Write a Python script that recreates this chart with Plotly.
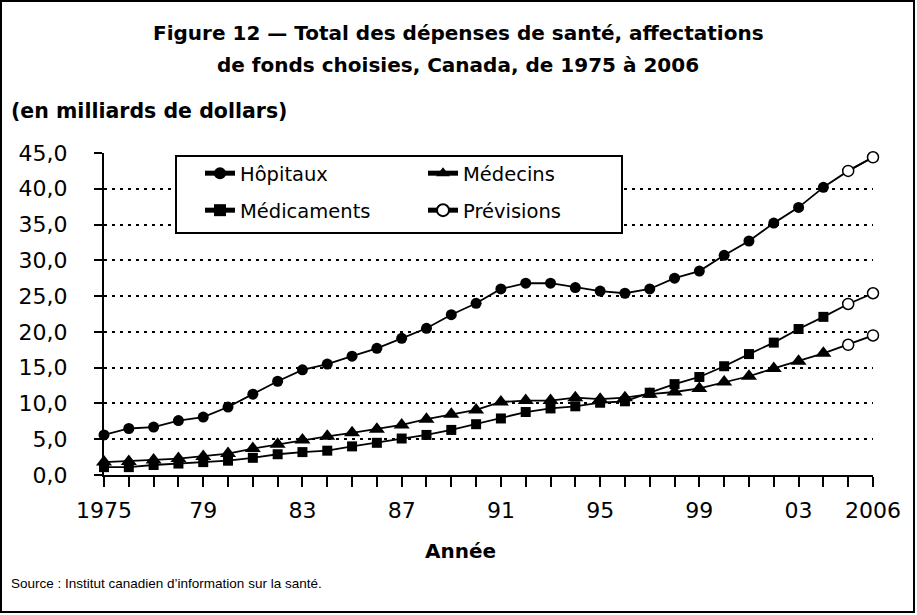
import plotly.graph_objects as go

years = list(range(1975, 2007))
hopitaux = [5.6, 6.5, 6.7, 7.6, 8.1, 9.5, 11.3, 13.1, 14.7, 15.5, 16.6, 17.7, 19.1, 20.5, 22.4, 24.0,
            26.0, 26.8, 26.8, 26.2, 25.7, 25.4, 26.0, 27.5, 28.5, 30.7, 32.7, 35.2, 37.4, 40.2, 42.5, 44.4]
medecins = [1.8, 1.9, 2.1, 2.3, 2.6, 3.0, 3.7, 4.3, 4.9, 5.4, 5.9, 6.4, 7.0, 7.8, 8.5, 9.1,
            10.2, 10.4, 10.4, 10.8, 10.6, 10.8, 11.3, 11.6, 12.1, 13.0, 13.8, 14.9, 15.9, 17.0, 18.2, 19.5]
medicaments = [1.1, 1.1, 1.4, 1.6, 1.8, 2.0, 2.4, 2.9, 3.2, 3.4, 4.0, 4.5, 5.1, 5.6, 6.3, 7.1,
               7.9, 8.8, 9.3, 9.6, 10.1, 10.3, 11.5, 12.7, 13.7, 15.2, 16.9, 18.5, 20.4, 22.1, 23.9, 25.4]
first_forecast_year = 2005
x_tick_labels = {1975: "1975", 1979: "79", 1983: "83", 1987: "87", 1991: "91",
                 1995: "95", 1999: "99", 2003: "03", 2006: "2006"}
y_ticks = [0, 5, 10, 15, 20, 25, 30, 35, 40, 45]

REG = "DejaVu Sans"
BOLD = "DejaVu Sans"
SRC = "Liberation Sans"

fig = go.Figure()
nf = years.index(first_forecast_year)

series = [("Hôpitaux", hopitaux, "circle", 11, "legend"),
          ("Médecins", medecins, "triangle-up", 14, "legend"),
          ("Médicaments", medicaments, "square", 10, "legend2")]

for name, vals, sym, size, lg in series:
    fig.add_trace(go.Scatter(
        x=years[:nf], y=vals[:nf], mode="lines+markers", name=name, legend=lg,
        line=dict(color="black", width=1.8),
        marker=dict(symbol=sym, size=size, color="black", line=dict(color="black", width=0)),
        cliponaxis=False))
    fig.add_trace(go.Scatter(
        x=years[nf - 1:], y=vals[nf - 1:], mode="lines", showlegend=False,
        line=dict(color="black", width=1.8), cliponaxis=False, hoverinfo="skip"))

for i, (name, vals, sym, size, lg) in enumerate(series):
    fig.add_trace(go.Scatter(
        x=years[nf:], y=vals[nf:], mode="lines+markers" if i == 0 else "markers",
        name="Prévisions", legend="legend2", showlegend=(i == 0),
        line=dict(color="black", width=1.8),
        marker=dict(symbol="circle", size=11, color="white", line=dict(color="black", width=1.5)),
        cliponaxis=False))

L, R, T, B = 104, 44, 153, 140
W, H = 917, 615
pw, ph = W - L - R, H - T - B

def px(xp):
    return (xp - L) / pw

def py(yp):
    return (H - B - yp) / ph

fig.update_layout(
    width=W, height=H,
    margin=dict(l=L, r=R, t=T, b=B, autoexpand=False),
    paper_bgcolor="white", plot_bgcolor="white",
    separators=", ",
    showlegend=True,
    xaxis=dict(
        range=[1975, 2006], tickmode="array", tickvals=years,
        ticktext=[x_tick_labels.get(y, "") for y in years],
        showgrid=False, zeroline=False, showline=True, linecolor="black", linewidth=2,
        ticks="outside", ticklen=10, tickwidth=2, tickcolor="black",
        tickfont=dict(family=REG, size=22, color="black"), ticklabelstandoff=5,
    ),
    yaxis=dict(
        range=[0, 45], tickmode="array", tickvals=y_ticks,
        ticktext=[f"{v:.1f}".replace(".", ",") for v in y_ticks],
        showgrid=True, gridcolor="black", gridwidth=2, griddash="3px,5px",
        zeroline=False, showline=True, linecolor="black", linewidth=2,
        ticks="outside", ticklen=8, tickwidth=2, tickcolor="black",
        tickfont=dict(family=REG, size=22, color="black"), ticklabelstandoff=22,
    ),
    legend=dict(
        x=px(200), y=py(154), xanchor="left", yanchor="top", orientation="h",
        font=dict(family=REG, size=19.5, color="black"),
        bgcolor="rgba(0,0,0,0)", borderwidth=0, entrywidth=178, entrywidthmode="pixels",
        itemsizing="constant", tracegroupgap=0,
    ),
    legend2=dict(
        x=px(200), y=py(191), xanchor="left", yanchor="top", orientation="h",
        font=dict(family=REG, size=19.5, color="black"),
        bgcolor="rgba(0,0,0,0)", borderwidth=0, entrywidth=178, entrywidthmode="pixels",
        itemsizing="constant", tracegroupgap=0,
    ),
    shapes=[
        dict(type="rect", xref="paper", yref="paper", x0=px(176), x1=px(622), y0=py(233), y1=py(156),
             line=dict(color="black", width=2), fillcolor="white", layer="above"),
        dict(type="rect", xref="paper", yref="paper", x0=px(1), x1=px(914), y0=py(612), y1=py(1),
             line=dict(color="black", width=2), fillcolor="rgba(0,0,0,0)"),
    ],
    annotations=[
        dict(text="<b>Figure 12 — Total des dépenses de santé, affectations</b>", x=px(458), y=py(33),
             xref="paper", yref="paper", xanchor="center", yanchor="middle", showarrow=False,
             font=dict(family=BOLD, size=20, color="black")),
        dict(text="<b>de fonds choisies, Canada, de 1975 à 2006</b>", x=px(458), y=py(65),
             xref="paper", yref="paper", xanchor="center", yanchor="middle", showarrow=False,
             font=dict(family=BOLD, size=20, color="black")),
        dict(text="<b>(en milliards de dollars)</b>", x=px(9), y=py(111),
             xref="paper", yref="paper", xanchor="left", yanchor="middle", showarrow=False,
             font=dict(family=BOLD, size=20.5, color="black")),
        dict(text="<b>Année</b>", x=px(460), y=py(551),
             xref="paper", yref="paper", xanchor="center", yanchor="middle", showarrow=False,
             font=dict(family=BOLD, size=20, color="black")),
        dict(text="Source : Institut canadien d’information sur la santé.", x=px(9), y=py(583),
             xref="paper", yref="paper", xanchor="left", yanchor="middle", showarrow=False,
             font=dict(family=SRC, size=13.5, color="black")),
    ],
)

fig.write_html("out.html", config={"displayModeBar": False},
               post_script="document.body.style.margin='0';document.body.style.overflow='hidden';")
